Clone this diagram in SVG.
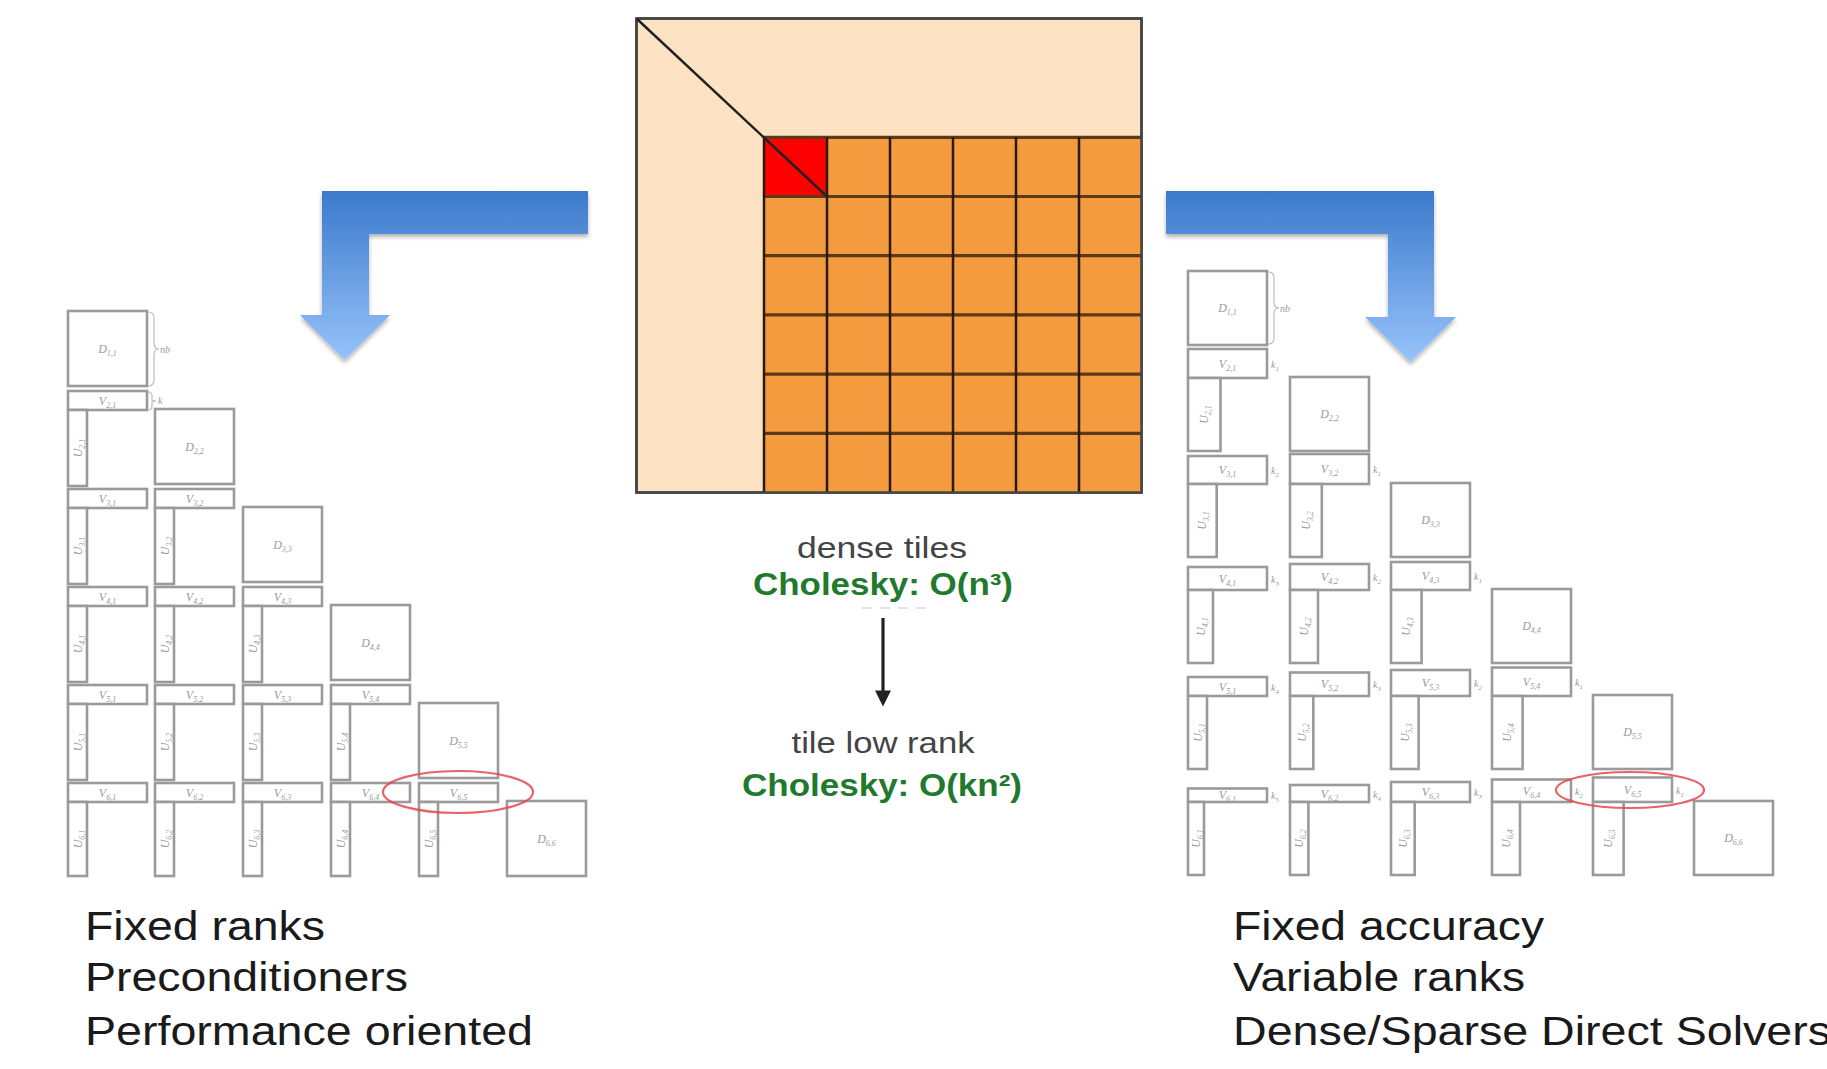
<svg xmlns="http://www.w3.org/2000/svg" width="1827" height="1069" viewBox="0 0 1827 1069">
<defs>
<style>
.t{fill:#fff;stroke:#9a9a9a;stroke-width:2.6}
.lb{font-family:"Liberation Serif",serif;font-style:italic;font-size:12px;fill:#9a9a9a;text-anchor:middle}
.lb tspan{font-size:8px}
.kl{font-family:"Liberation Serif",serif;font-style:italic;font-size:10px;fill:#9a9a9a}
.kl tspan{font-size:7px}
.brace{fill:none;stroke:#bdbdbd;stroke-width:1.2}
.ell{fill:none;stroke:#e5484b;stroke-width:2.2;opacity:.85}
.cap{font-family:"Liberation Sans",Arial,sans-serif;font-size:40px;fill:#1a1a1a}
.mid{font-family:"Liberation Sans",Arial,sans-serif;font-size:29px;fill:#444;text-anchor:middle}
.grn{font-family:"Liberation Sans",Arial,sans-serif;font-size:31px;font-weight:bold;fill:#1f7a2e;text-anchor:middle}
.gv{stroke:#2a1a0a;stroke-width:2.5}
.gh{stroke:#5a3a18;stroke-width:3.2}
.blue{fill:url(#bg);filter:url(#sh)}
</style>
<linearGradient id="bg" gradientUnits="userSpaceOnUse" x1="0" y1="191" x2="0" y2="362">
<stop offset="0" stop-color="#3b7acb"/>
<stop offset="1" stop-color="#98c3fb"/>
</linearGradient>
<filter id="sh" x="-10%" y="-10%" width="130%" height="130%">
<feDropShadow dx="0" dy="3" stdDeviation="2" flood-color="#000" flood-opacity="0.3"/>
</filter>
<marker id="ah" markerWidth="6" markerHeight="5" refX="0.5" refY="2.5" orient="auto" markerUnits="strokeWidth">
<path d="M0,0 L5,2.5 L0,5 Z" fill="#222"/>
</marker>
</defs>
<rect x="0" y="0" width="1827" height="1069" fill="#fff"/>

<g id="dense-matrix">
<rect x="636.5" y="18.5" width="505" height="474" fill="#fde3c3" stroke="#444" stroke-width="2.5"/>
<rect x="764" y="137.3" width="378" height="355.2" fill="#f39b3e"/>
<rect x="764" y="137.3" width="63" height="59.2" fill="#ff0000"/>
<line class="gh" x1="764" y1="137.3" x2="1142" y2="137.3"/>
<line class="gh" x1="764" y1="196.5" x2="1142" y2="196.5"/>
<line class="gh" x1="764" y1="255.7" x2="1142" y2="255.7"/>
<line class="gh" x1="764" y1="314.9" x2="1142" y2="314.9"/>
<line class="gh" x1="764" y1="374.1" x2="1142" y2="374.1"/>
<line class="gh" x1="764" y1="433.3" x2="1142" y2="433.3"/>
<line class="gv" x1="764" y1="137.3" x2="764" y2="492.5"/>
<line class="gv" x1="827" y1="137.3" x2="827" y2="492.5"/>
<line class="gv" x1="890" y1="137.3" x2="890" y2="492.5"/>
<line class="gv" x1="953" y1="137.3" x2="953" y2="492.5"/>
<line class="gv" x1="1016" y1="137.3" x2="1016" y2="492.5"/>
<line class="gv" x1="1079" y1="137.3" x2="1079" y2="492.5"/>
<rect x="636.5" y="18.5" width="505" height="474" fill="none" stroke="#444" stroke-width="2.5"/>
<line x1="637" y1="19" x2="827" y2="196.5" stroke="#222" stroke-width="2.5"/>
</g>

<g id="center-labels">
<text class="mid" x="882" y="558" textLength="170" lengthAdjust="spacingAndGlyphs">dense tiles</text>
<text class="grn" x="883" y="595" textLength="260" lengthAdjust="spacingAndGlyphs">Cholesky: O(n³)</text>
<line x1="862" y1="608" x2="932" y2="608" stroke="#e4e4e4" stroke-width="2" stroke-dasharray="10 8"/>
<text class="mid" x="883" y="753" textLength="183" lengthAdjust="spacingAndGlyphs">tile low rank</text>
<text class="grn" x="882" y="796" textLength="280" lengthAdjust="spacingAndGlyphs">Cholesky: O(kn²)</text>
</g>

<g id="connectors">
<path class="blue" d="M588,191 L322,191 L322,315 L300,315 L344.5,360 L390,315 L369,315 L369,234 L588,234 Z"/>
<path class="blue" d="M1166,191 L1434,191 L1434,317 L1456,317 L1410.5,362 L1365,317 L1388,317 L1388,234 L1166,234 Z"/>
<line x1="883" y1="618" x2="883" y2="692" stroke="#222" stroke-width="3.2" marker-end="url(#ah)"/>
</g>

<g id="fixed-rank-tiles">
<g id="L-D11"><rect class="t" x="68" y="311" width="79" height="75"/><text class="lb" x="107.5" y="353">D<tspan dy="3">1,1</tspan></text></g>
<g id="L-V21"><rect class="t" x="68" y="391" width="79" height="19"/><text class="lb" x="107.5" y="405">V<tspan dy="3">2,1</tspan></text></g>
<g id="L-U21"><rect class="t" x="68" y="410" width="19" height="76"/><text class="lb" transform="translate(81.5,448) rotate(-90)">U<tspan dy="3">2,1</tspan></text></g>
<g id="L-V31"><rect class="t" x="68" y="489" width="79" height="19"/><text class="lb" x="107.5" y="503">V<tspan dy="3">3,1</tspan></text></g>
<g id="L-U31"><rect class="t" x="68" y="508" width="19" height="76"/><text class="lb" transform="translate(81.5,546) rotate(-90)">U<tspan dy="3">3,1</tspan></text></g>
<g id="L-V41"><rect class="t" x="68" y="587" width="79" height="19"/><text class="lb" x="107.5" y="601">V<tspan dy="3">4,1</tspan></text></g>
<g id="L-U41"><rect class="t" x="68" y="606" width="19" height="76"/><text class="lb" transform="translate(81.5,644) rotate(-90)">U<tspan dy="3">4,1</tspan></text></g>
<g id="L-V51"><rect class="t" x="68" y="685" width="79" height="19"/><text class="lb" x="107.5" y="699">V<tspan dy="3">5,1</tspan></text></g>
<g id="L-U51"><rect class="t" x="68" y="704" width="19" height="76"/><text class="lb" transform="translate(81.5,742) rotate(-90)">U<tspan dy="3">5,1</tspan></text></g>
<g id="L-V61"><rect class="t" x="68" y="783" width="79" height="19"/><text class="lb" x="107.5" y="797">V<tspan dy="3">6,1</tspan></text></g>
<g id="L-U61"><rect class="t" x="68" y="802" width="19" height="74"/><text class="lb" transform="translate(81.5,839) rotate(-90)">U<tspan dy="3">6,1</tspan></text></g>

<g id="L-D22"><rect class="t" x="155" y="409" width="79" height="75"/><text class="lb" x="194.5" y="451">D<tspan dy="3">2,2</tspan></text></g>
<g id="L-V32"><rect class="t" x="155" y="489" width="79" height="19"/><text class="lb" x="194.5" y="503">V<tspan dy="3">3,2</tspan></text></g>
<g id="L-U32"><rect class="t" x="155" y="508" width="19" height="76"/><text class="lb" transform="translate(168.5,546) rotate(-90)">U<tspan dy="3">3,2</tspan></text></g>
<g id="L-V42"><rect class="t" x="155" y="587" width="79" height="19"/><text class="lb" x="194.5" y="601">V<tspan dy="3">4,2</tspan></text></g>
<g id="L-U42"><rect class="t" x="155" y="606" width="19" height="76"/><text class="lb" transform="translate(168.5,644) rotate(-90)">U<tspan dy="3">4,2</tspan></text></g>
<g id="L-V52"><rect class="t" x="155" y="685" width="79" height="19"/><text class="lb" x="194.5" y="699">V<tspan dy="3">5,2</tspan></text></g>
<g id="L-U52"><rect class="t" x="155" y="704" width="19" height="76"/><text class="lb" transform="translate(168.5,742) rotate(-90)">U<tspan dy="3">5,2</tspan></text></g>
<g id="L-V62"><rect class="t" x="155" y="783" width="79" height="19"/><text class="lb" x="194.5" y="797">V<tspan dy="3">6,2</tspan></text></g>
<g id="L-U62"><rect class="t" x="155" y="802" width="19" height="74"/><text class="lb" transform="translate(168.5,839) rotate(-90)">U<tspan dy="3">6,2</tspan></text></g>

<g id="L-D33"><rect class="t" x="243" y="507" width="79" height="75"/><text class="lb" x="282.5" y="549">D<tspan dy="3">3,3</tspan></text></g>
<g id="L-V43"><rect class="t" x="243" y="587" width="79" height="19"/><text class="lb" x="282.5" y="601">V<tspan dy="3">4,3</tspan></text></g>
<g id="L-U43"><rect class="t" x="243" y="606" width="19" height="76"/><text class="lb" transform="translate(256.5,644) rotate(-90)">U<tspan dy="3">4,3</tspan></text></g>
<g id="L-V53"><rect class="t" x="243" y="685" width="79" height="19"/><text class="lb" x="282.5" y="699">V<tspan dy="3">5,3</tspan></text></g>
<g id="L-U53"><rect class="t" x="243" y="704" width="19" height="76"/><text class="lb" transform="translate(256.5,742) rotate(-90)">U<tspan dy="3">5,3</tspan></text></g>
<g id="L-V63"><rect class="t" x="243" y="783" width="79" height="19"/><text class="lb" x="282.5" y="797">V<tspan dy="3">6,3</tspan></text></g>
<g id="L-U63"><rect class="t" x="243" y="802" width="19" height="74"/><text class="lb" transform="translate(256.5,839) rotate(-90)">U<tspan dy="3">6,3</tspan></text></g>

<g id="L-D44"><rect class="t" x="331" y="605" width="79" height="75"/><text class="lb" x="370.5" y="647">D<tspan dy="3">4,4</tspan></text></g>
<g id="L-V54"><rect class="t" x="331" y="685" width="79" height="19"/><text class="lb" x="370.5" y="699">V<tspan dy="3">5,4</tspan></text></g>
<g id="L-U54"><rect class="t" x="331" y="704" width="19" height="76"/><text class="lb" transform="translate(344.5,742) rotate(-90)">U<tspan dy="3">5,4</tspan></text></g>
<g id="L-V64"><rect class="t" x="331" y="783" width="79" height="19"/><text class="lb" x="370.5" y="797">V<tspan dy="3">6,4</tspan></text></g>
<g id="L-U64"><rect class="t" x="331" y="802" width="19" height="74"/><text class="lb" transform="translate(344.5,839) rotate(-90)">U<tspan dy="3">6,4</tspan></text></g>

<g id="L-D55"><rect class="t" x="419" y="703" width="79" height="75"/><text class="lb" x="458.5" y="745">D<tspan dy="3">5,5</tspan></text></g>
<g id="L-V65"><rect class="t" x="419" y="783" width="79" height="19"/><text class="lb" x="458.5" y="797">V<tspan dy="3">6,5</tspan></text></g>
<g id="L-U65"><rect class="t" x="419" y="802" width="19" height="74"/><text class="lb" transform="translate(432.5,839) rotate(-90)">U<tspan dy="3">6,5</tspan></text></g>

<g id="L-D66"><rect class="t" x="507" y="801" width="79" height="75"/><text class="lb" x="546.5" y="843">D<tspan dy="3">6,6</tspan></text></g>

<g id="L-annot">
<path class="brace" d="M148,312 q6,0 6,6 v25 q0,6 5,6 q-5,0 -5,6 v25 q0,6 -6,6"/>
<text class="kl" x="160" y="353">nb</text>
<path class="brace" d="M148,392 q4,0 4,4 v4 l3,1 l-3,1 v4 q0,4 -4,4"/>
<text class="kl" x="158" y="404">k</text>
<ellipse class="ell" cx="458" cy="792" rx="75" ry="21"/>
</g>
</g>

<g id="variable-rank-tiles">
<g id="R-D11"><rect class="t" x="1188" y="271" width="79" height="74"/><text class="lb" x="1227.5" y="312">D<tspan dy="3">1,1</tspan></text></g>
<g id="R-D22"><rect class="t" x="1290" y="377" width="79" height="74"/><text class="lb" x="1329.5" y="418">D<tspan dy="3">2,2</tspan></text></g>
<g id="R-D33"><rect class="t" x="1391" y="483" width="79" height="74"/><text class="lb" x="1430.5" y="524">D<tspan dy="3">3,3</tspan></text></g>
<g id="R-D44"><rect class="t" x="1492" y="589" width="79" height="74"/><text class="lb" x="1531.5" y="630">D<tspan dy="3">4,4</tspan></text></g>
<g id="R-D55"><rect class="t" x="1593" y="695" width="79" height="74"/><text class="lb" x="1632.5" y="736">D<tspan dy="3">5,5</tspan></text></g>
<g id="R-D66"><rect class="t" x="1694" y="801" width="79" height="74"/><text class="lb" x="1733.5" y="842">D<tspan dy="3">6,6</tspan></text></g>

<g id="R-V21"><rect class="t" x="1188" y="349" width="79" height="29"/><text class="lb" x="1227.5" y="367.5">V<tspan dy="3">2,1</tspan></text><text class="kl" x="1271" y="367.5">k<tspan dy="3">1</tspan></text></g>
<g id="R-V31"><rect class="t" x="1188" y="456" width="79" height="28"/><text class="lb" x="1227.5" y="474">V<tspan dy="3">3,1</tspan></text><text class="kl" x="1271" y="474">k<tspan dy="3">2</tspan></text></g>
<g id="R-V32"><rect class="t" x="1290" y="454" width="79" height="30"/><text class="lb" x="1329.5" y="473">V<tspan dy="3">3,2</tspan></text><text class="kl" x="1373" y="473">k<tspan dy="3">1</tspan></text></g>
<g id="R-V41"><rect class="t" x="1188" y="567" width="79" height="23"/><text class="lb" x="1227.5" y="582.5">V<tspan dy="3">4,1</tspan></text><text class="kl" x="1271" y="582.5">k<tspan dy="3">3</tspan></text></g>
<g id="R-V42"><rect class="t" x="1290" y="564" width="79" height="26"/><text class="lb" x="1329.5" y="581">V<tspan dy="3">4,2</tspan></text><text class="kl" x="1373" y="581">k<tspan dy="3">2</tspan></text></g>
<g id="R-V43"><rect class="t" x="1391" y="562" width="79" height="28"/><text class="lb" x="1430.5" y="580">V<tspan dy="3">4,3</tspan></text><text class="kl" x="1474" y="580">k<tspan dy="3">1</tspan></text></g>
<g id="R-V51"><rect class="t" x="1188" y="677" width="79" height="19"/><text class="lb" x="1227.5" y="690.5">V<tspan dy="3">5,1</tspan></text><text class="kl" x="1271" y="690.5">k<tspan dy="3">4</tspan></text></g>
<g id="R-V52"><rect class="t" x="1290" y="672.5" width="79" height="23.5"/><text class="lb" x="1329.5" y="688.3">V<tspan dy="3">5,2</tspan></text><text class="kl" x="1373" y="688.3">k<tspan dy="3">3</tspan></text></g>
<g id="R-V53"><rect class="t" x="1391" y="670" width="79" height="26"/><text class="lb" x="1430.5" y="687">V<tspan dy="3">5,3</tspan></text><text class="kl" x="1474" y="687">k<tspan dy="3">2</tspan></text></g>
<g id="R-V54"><rect class="t" x="1492" y="667.5" width="79" height="28.5"/><text class="lb" x="1531.5" y="685.8">V<tspan dy="3">5,4</tspan></text><text class="kl" x="1575" y="685.8">k<tspan dy="3">1</tspan></text></g>
<g id="R-V61"><rect class="t" x="1188" y="788.5" width="79" height="13.5"/><text class="lb" x="1227.5" y="799">V<tspan dy="3">6,1</tspan></text><text class="kl" x="1271" y="799">k<tspan dy="3">5</tspan></text></g>
<g id="R-V62"><rect class="t" x="1290" y="785" width="79" height="17"/><text class="lb" x="1329.5" y="797.5">V<tspan dy="3">6,2</tspan></text><text class="kl" x="1373" y="797.5">k<tspan dy="3">4</tspan></text></g>
<g id="R-V63"><rect class="t" x="1391" y="782" width="79" height="20"/><text class="lb" x="1430.5" y="796">V<tspan dy="3">6,3</tspan></text><text class="kl" x="1474" y="796">k<tspan dy="3">3</tspan></text></g>
<g id="R-V64"><rect class="t" x="1492" y="779.5" width="79" height="22.5"/><text class="lb" x="1531.5" y="794.8">V<tspan dy="3">6,4</tspan></text><text class="kl" x="1575" y="794.8">k<tspan dy="3">2</tspan></text></g>
<g id="R-V65"><rect class="t" x="1593" y="777.5" width="79" height="24.5"/><text class="lb" x="1632.5" y="793.8">V<tspan dy="3">6,5</tspan></text><text class="kl" x="1676" y="793.8">k<tspan dy="3">1</tspan></text></g>

<g id="R-U21"><rect class="t" x="1188" y="378" width="32.5" height="73"/><text class="lb" transform="translate(1208.3,414.5) rotate(-90)">U<tspan dy="3">2,1</tspan></text></g>
<g id="R-U31"><rect class="t" x="1188" y="484" width="28.7" height="73"/><text class="lb" transform="translate(1206.4,520.5) rotate(-90)">U<tspan dy="3">3,1</tspan></text></g>
<g id="R-U32"><rect class="t" x="1290" y="484" width="31.8" height="73"/><text class="lb" transform="translate(1309.9,520.5) rotate(-90)">U<tspan dy="3">3,2</tspan></text></g>
<g id="R-U41"><rect class="t" x="1188" y="590" width="25" height="73"/><text class="lb" transform="translate(1204.5,626.5) rotate(-90)">U<tspan dy="3">4,1</tspan></text></g>
<g id="R-U42"><rect class="t" x="1290" y="590" width="28" height="73"/><text class="lb" transform="translate(1308,626.5) rotate(-90)">U<tspan dy="3">4,2</tspan></text></g>
<g id="R-U43"><rect class="t" x="1391" y="590" width="30.6" height="73"/><text class="lb" transform="translate(1410.3,626.5) rotate(-90)">U<tspan dy="3">4,3</tspan></text></g>
<g id="R-U51"><rect class="t" x="1188" y="696" width="19" height="73"/><text class="lb" transform="translate(1201.5,732.5) rotate(-90)">U<tspan dy="3">5,1</tspan></text></g>
<g id="R-U52"><rect class="t" x="1290" y="696" width="23.3" height="73"/><text class="lb" transform="translate(1305.7,732.5) rotate(-90)">U<tspan dy="3">5,2</tspan></text></g>
<g id="R-U53"><rect class="t" x="1391" y="696" width="27.6" height="73"/><text class="lb" transform="translate(1408.8,732.5) rotate(-90)">U<tspan dy="3">5,3</tspan></text></g>
<g id="R-U54"><rect class="t" x="1492" y="696" width="30.6" height="73"/><text class="lb" transform="translate(1511.3,732.5) rotate(-90)">U<tspan dy="3">5,4</tspan></text></g>
<g id="R-U61"><rect class="t" x="1188" y="802" width="16" height="73"/><text class="lb" transform="translate(1200,838.5) rotate(-90)">U<tspan dy="3">6,1</tspan></text></g>
<g id="R-U62"><rect class="t" x="1290" y="802" width="18.4" height="73"/><text class="lb" transform="translate(1303.2,838.5) rotate(-90)">U<tspan dy="3">6,2</tspan></text></g>
<g id="R-U63"><rect class="t" x="1391" y="802" width="23.7" height="73"/><text class="lb" transform="translate(1406.9,838.5) rotate(-90)">U<tspan dy="3">6,3</tspan></text></g>
<g id="R-U64"><rect class="t" x="1492" y="802" width="28" height="73"/><text class="lb" transform="translate(1510,838.5) rotate(-90)">U<tspan dy="3">6,4</tspan></text></g>
<g id="R-U65"><rect class="t" x="1593" y="802" width="30.6" height="73"/><text class="lb" transform="translate(1612.3,838.5) rotate(-90)">U<tspan dy="3">6,5</tspan></text></g>

<g id="R-annot">
<path class="brace" d="M1268,272 q6,0 6,6 v24 q0,6 5,6 q-5,0 -5,6 v24 q0,6 -6,6"/>
<text class="kl" x="1280" y="312">nb</text>
<ellipse class="ell" cx="1630" cy="790" rx="74" ry="18"/>
</g>
</g>

<g id="left-caption">
<text class="cap" x="85" y="940" textLength="240" lengthAdjust="spacingAndGlyphs">Fixed ranks</text>
<text class="cap" x="85" y="991" textLength="323" lengthAdjust="spacingAndGlyphs">Preconditioners</text>
<text class="cap" x="85" y="1045" textLength="448" lengthAdjust="spacingAndGlyphs">Performance oriented</text>
</g>
<g id="right-caption">
<text class="cap" x="1233" y="940" textLength="311" lengthAdjust="spacingAndGlyphs">Fixed accuracy</text>
<text class="cap" x="1233" y="991" textLength="292" lengthAdjust="spacingAndGlyphs">Variable ranks</text>
<text class="cap" x="1233" y="1045" textLength="598" lengthAdjust="spacingAndGlyphs">Dense/Sparse Direct Solvers</text>
</g>
</svg>
